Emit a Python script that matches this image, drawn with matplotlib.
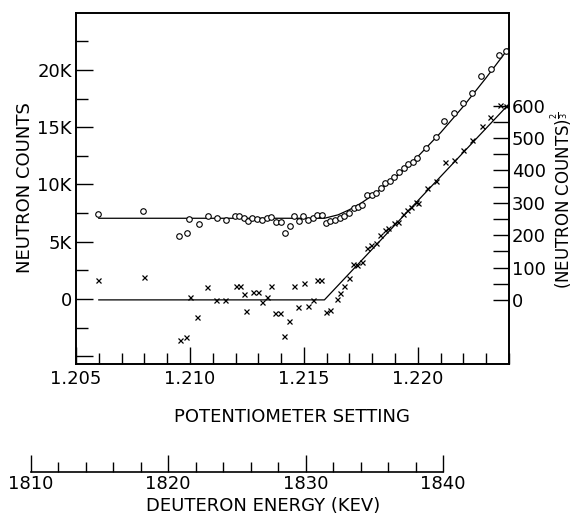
import numpy as np
import matplotlib
matplotlib.use("Agg")
import matplotlib.pyplot as plt
from matplotlib.ticker import MultipleLocator, FixedLocator

plt.rcParams['font.family'] = ['DejaVu Sans']
plt.rcParams['mathtext.fontset'] = 'dejavusans'

# ---- data: total neutron counts (open circles, left axis) ----
circ_x = [1.20598, 1.20796, 1.20952, 1.20988, 1.20998, 1.21038, 1.21078, 1.21118,
          1.21159, 1.21196, 1.21216, 1.21237, 1.21256, 1.21274, 1.21296, 1.21318,
          1.21336, 1.21357, 1.21377, 1.21398, 1.21418, 1.21438, 1.21458, 1.21478,
          1.21497, 1.21518, 1.21538, 1.21558, 1.21578, 1.21596, 1.21616, 1.21636,
          1.21657, 1.21677, 1.21697, 1.21718, 1.21737, 1.21757, 1.21779, 1.21797,
          1.21818, 1.21837, 1.21858, 1.21876, 1.21896, 1.21916, 1.21938, 1.21958,
          1.21977, 1.21996, 1.22035, 1.22079, 1.22116, 1.22158, 1.22196, 1.22236,
          1.22278, 1.22319, 1.22355, 1.22389]
circ_y = [7464, 7682, 5517, 5788, 7028, 6591, 7272, 7071,
          6914, 7272, 7246, 7089, 6809, 7071, 7028, 6879,
          7071, 7185, 6748, 6748, 5788, 6399, 7228, 6836,
          7246, 6923, 7097, 7333, 7333, 6609, 6809, 6870,
          7045, 7220, 7508, 7970, 8058, 8250, 9062, 9079,
          9254, 9708, 10127, 10319, 10651, 11061, 11436, 11759,
          11934, 12309, 13165, 14116, 15539, 16212, 17111, 18010,
          19468, 20079, 21301, 21650]

# fitted curve through circles
circ_fit_x = [1.2060, 1.2159, 1.2165, 1.2170, 1.2175, 1.2180, 1.2185, 1.2190,
              1.2195, 1.2200, 1.2210, 1.2220, 1.2230, 1.2240]
circ_fit_y = [7050, 7050, 7350, 7800, 8360, 9030, 9770, 10590,
              11480, 12440, 14530, 16830, 19330, 21950]

# ---- data: (neutron counts - background)^(2/3) (crosses, right axis) ----
cross_x = [1.20596, 1.20797, 1.20955, 1.20982, 1.21000, 1.21031, 1.21075, 1.21116,
           1.21154, 1.21200, 1.21220, 1.21238, 1.21248, 1.21275, 1.21297, 1.21314,
           1.21336, 1.21357, 1.21374, 1.21396, 1.21411, 1.21433, 1.21458, 1.21472,
           1.21500, 1.21520, 1.21541, 1.21558, 1.21577, 1.21598, 1.21615, 1.21646,
           1.21658, 1.21675, 1.21697, 1.21716, 1.21735, 1.21757, 1.21775, 1.21795,
           1.21815, 1.21836, 1.21857, 1.21871, 1.21895, 1.21914, 1.21936, 1.21953,
           1.21972, 1.21990, 1.22000, 1.22038, 1.22079, 1.22118, 1.22158, 1.22197,
           1.22238, 1.22283, 1.22315, 1.22360, 1.22386]
cross_y = [60, 72, -123, -114, 10, -52, 40, -1,
           0, 44, 44, 18, -33, 23, 23, -7,
           10, 44, -39, -39, -113, -64, 44, -21,
           53, -18, 0, 60, 60, -38, -30, 4,
           22, 42, 67, 111, 107, 116, 161, 168,
           175, 199, 216, 221, 237, 242, 265, 278,
           288, 303, 300, 346, 367, 427, 432, 463,
           494, 537, 566, 602, 600]

cross_fit_x = [1.2060, 1.2159, 1.2240]
cross_fit_y = [0, 0, 605]

# ---- axis tick values / labels ----
pot_ticks = [1.205, 1.210, 1.215, 1.220]
pot_labels = ['1.205', '1.210', '1.215', '1.220']
cnt_ticks = [-5000, 0, 5000, 10000, 15000, 20000]
cnt_labels = ['', '0', '5K', '10K', '15K', '20K']
cnt_minor = [-2500, 2500, 7500, 12500, 17500, 22500]
r_ticks = [0, 100, 200, 300, 400, 500, 600]
r_labels = ['0', '100', '200', '300', '400', '500', '600']
r_minor = [50, 150, 250, 350, 450, 550]
e_ticks = [1810, 1820, 1830, 1840]
e_labels = ['1810', '1820', '1830', '1840']

W, H = 576, 521
fig = plt.figure(figsize=(W / 100, H / 100), dpi=100)
fig.patch.set_facecolor('white')

L, R, T, B = 76, 509, 13, 364
ax = fig.add_axes([L / W, 1 - B / H, (R - L) / W, (B - T) / H])
ax.set_xlim(1.205, 1.224)
ax.set_ylim(-5680, 24980)
for s in ax.spines.values():
    s.set_linewidth(1.2)

ax.plot(circ_fit_x, circ_fit_y, color='black', lw=0.9, zorder=2)
ax.plot(circ_x, circ_y, linestyle='none', marker='o', ms=4.0, mfc='white',
        mec='black', mew=0.8, zorder=3)

ax.set_xticks(pot_ticks)
ax.set_xticklabels(pot_labels)
ax.xaxis.set_minor_locator(MultipleLocator(0.001))
ax.set_yticks(cnt_ticks)
ax.set_yticklabels(cnt_labels)
ax.yaxis.set_minor_locator(FixedLocator(cnt_minor))
ax.tick_params(axis='x', which='major', direction='in', length=12.5, width=1,
               top=False, pad=4, labelsize=13)
ax.tick_params(axis='x', which='minor', direction='in', length=8, width=1, top=False)
ax.tick_params(axis='y', which='major', direction='in', length=12, width=1,
               right=False, pad=3, labelsize=13)
ax.tick_params(axis='y', which='minor', direction='in', length=8.5, width=1, right=False)

ax2 = ax.twinx()
ax2.set_ylim(-198, 886)
ax2.plot(cross_fit_x, cross_fit_y, color='black', lw=0.9, zorder=2)
ax2.plot(cross_x, cross_y, linestyle='none', marker='x', ms=3.6, mec='black',
         mew=0.9, zorder=3)
ax2.set_yticks(r_ticks)
ax2.set_yticklabels(r_labels)
ax2.yaxis.set_minor_locator(FixedLocator(r_minor))
ax2.tick_params(axis='y', which='both', direction='in', length=11.5, width=1,
                pad=2, labelsize=13)
for s in ax2.spines.values():
    s.set_linewidth(1.2)

fig.text(291.5 / W, 1 - 417 / H, 'POTENTIOMETER SETTING', ha='center', va='center',
         fontsize=13)
fig.text(25 / W, 1 - 188 / H, 'NEUTRON COUNTS', ha='center', va='center',
         rotation=90, fontsize=13)
fig.text(561 / W, 1 - 200 / H, r'(NEUTRON COUNTS)$^{\frac{2}{3}}$', ha='center',
         va='center', rotation=90, fontsize=12)

# deuteron energy scale
EL, ER, EY = 30.5, 443, 472
axE = fig.add_axes([EL / W, 1 - EY / H, (ER - EL) / W, 0.001])
axE.set_facecolor('none')
for k in ['left', 'right', 'top']:
    axE.spines[k].set_visible(False)
axE.spines['bottom'].set_linewidth(1.2)
axE.set_xlim(1810, 1840)
axE.set_xticks(e_ticks)
axE.set_xticklabels(e_labels)
axE.xaxis.set_minor_locator(MultipleLocator(2))
axE.set_yticks([])
axE.tick_params(axis='x', which='major', direction='in', length=12, width=1,
                pad=2, labelsize=13)
axE.tick_params(axis='x', which='minor', direction='in', length=7.5, width=1)
fig.text(263 / W, 1 - 506 / H, 'DEUTERON ENERGY (KEV)', ha='center', va='center',
         fontsize=13)

fig.savefig('out.png', dpi=100, facecolor='white')
